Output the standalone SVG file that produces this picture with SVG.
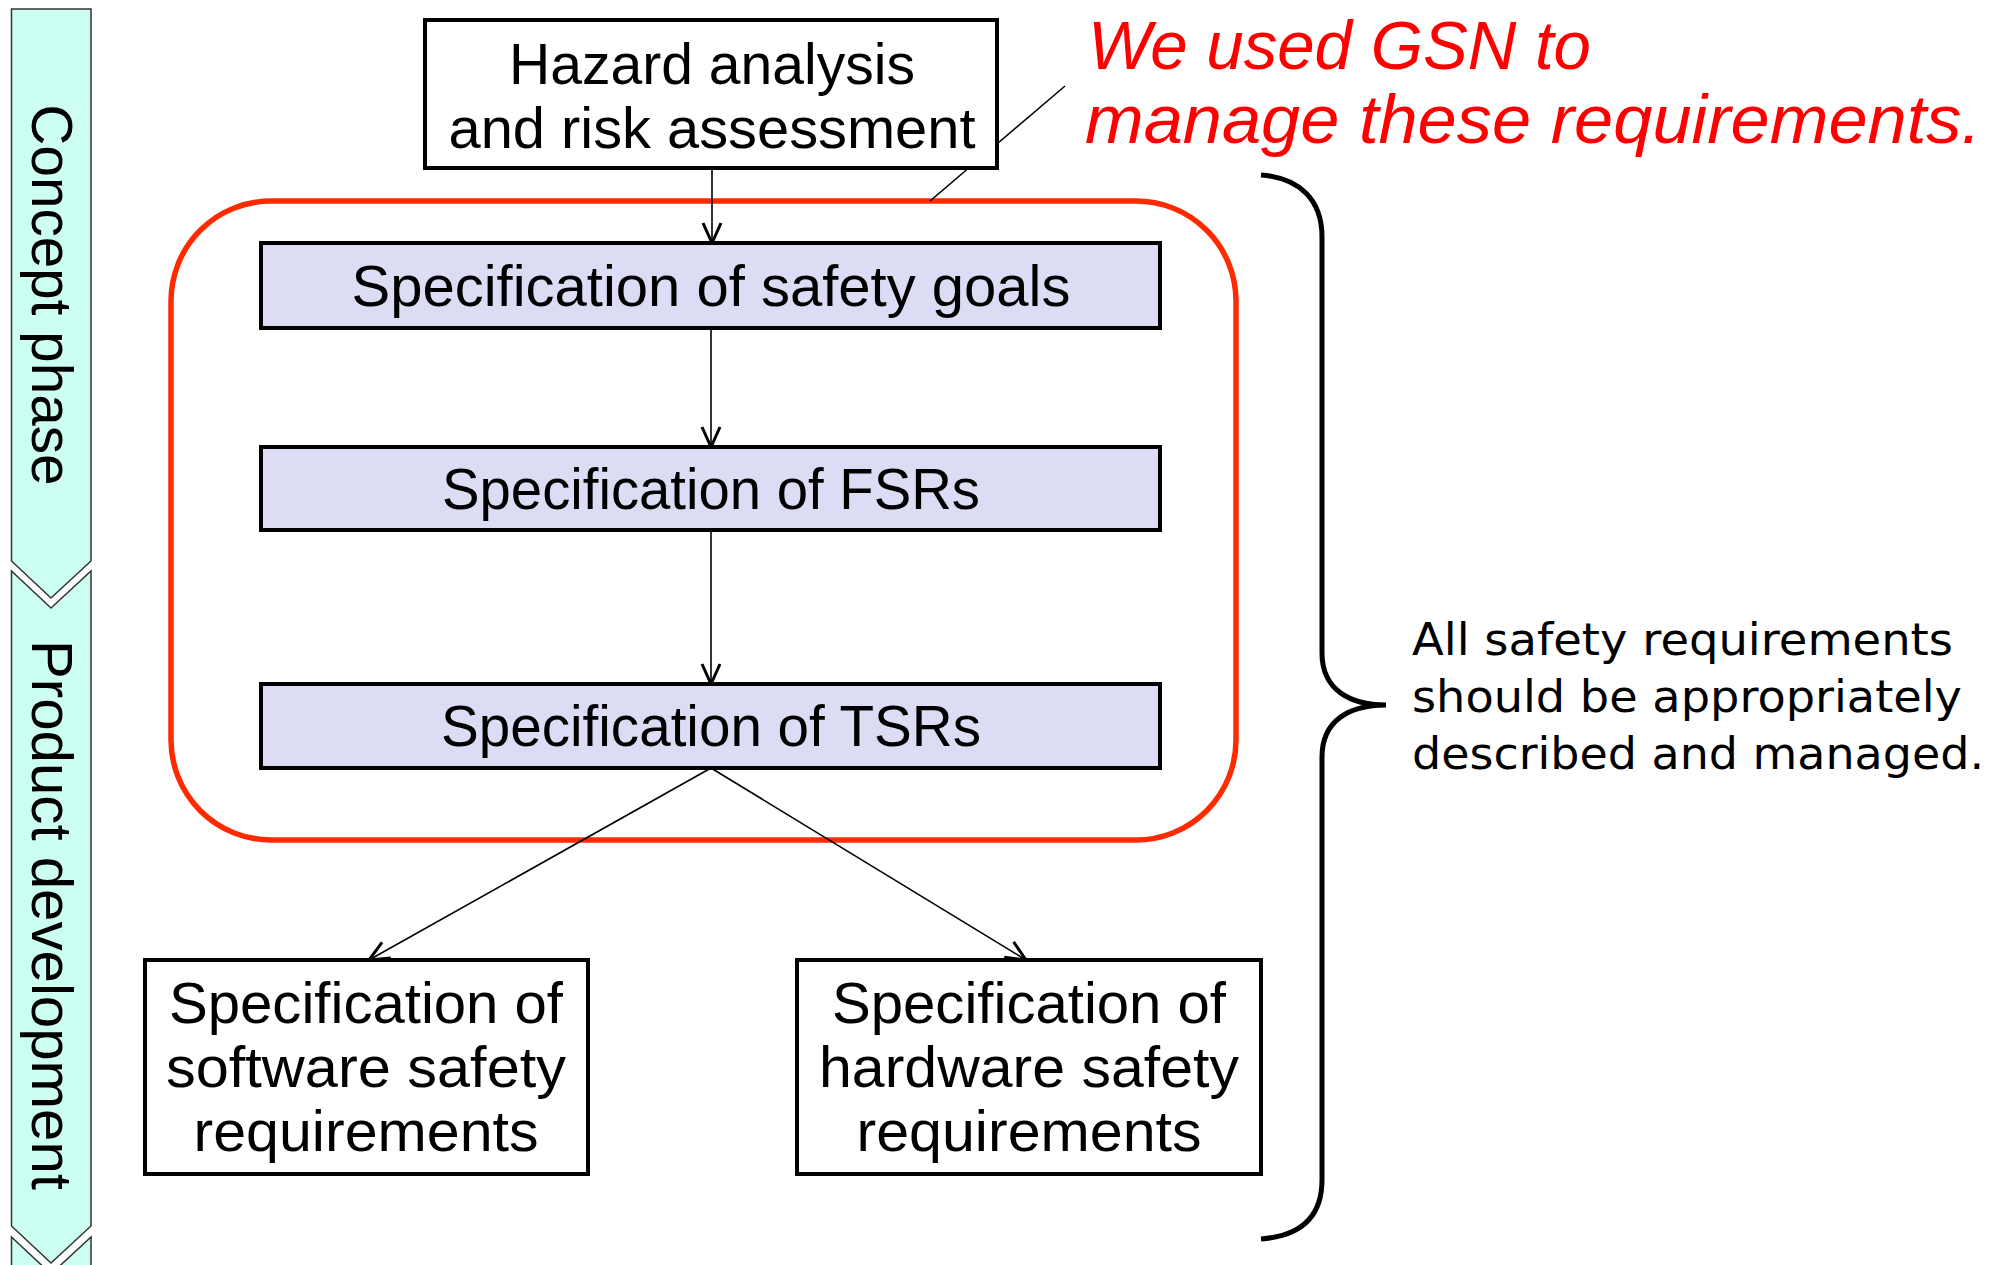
<svg xmlns="http://www.w3.org/2000/svg" width="2007" height="1265" viewBox="0 0 2007 1265">
<style>
.box{fill:#fff;stroke:#000;stroke-width:4}
.spec{fill:#dcdcf4;stroke:#000;stroke-width:4}
.t{font-family:"Liberation Sans",Arial,sans-serif;font-size:57px;fill:#000;text-anchor:middle}
.phase{fill:#ccfff2;stroke:#333;stroke-width:1.5}
.conn{stroke:#000;stroke-width:1.6;fill:none}
</style>
<defs>
<marker id="arr" markerUnits="userSpaceOnUse" markerWidth="24" markerHeight="24" viewBox="0 0 24 24" refX="22" refY="12" orient="auto">
<path d="M2,3 L22,12 L2,21" fill="none" stroke="#000" stroke-width="3"/>
</marker>
</defs>
<rect width="2007" height="1265" fill="#fff"/>

<g id="phases">
<path class="phase" d="M11.5,9 L91,9 L91,561 L51,598 L11.5,561 Z"/>
<path class="phase" d="M11.5,571 L51,608 L91,571 L91,1226 L51,1263 L11.5,1226 Z"/>
<path class="phase" d="M11.5,1237 L51,1274 L91,1237 L91,1290 L11.5,1290 Z"/>
<text class="t" transform="translate(32,295) rotate(90)" textLength="381" lengthAdjust="spacingAndGlyphs">Concept phase</text>
<text class="t" transform="translate(32,915) rotate(90)" textLength="550" lengthAdjust="spacingAndGlyphs">Product development</text>
</g>

<g id="gsn-boundary">
<rect x="171" y="201" width="1065" height="639" rx="100" ry="100" fill="none" stroke="#ff2a00" stroke-width="5.5"/>
</g>

<g id="connectors">
<line class="conn" x1="712" y1="168" x2="712" y2="243" marker-end="url(#arr)"/>
<line class="conn" x1="711" y1="328" x2="711" y2="447" marker-end="url(#arr)"/>
<line class="conn" x1="711" y1="530" x2="711" y2="684" marker-end="url(#arr)"/>
<line class="conn" x1="711" y1="768" x2="369" y2="960" marker-end="url(#arr)"/>
<line class="conn" x1="711" y1="768" x2="1026" y2="960" marker-end="url(#arr)"/>
<line class="conn" x1="1065" y1="86" x2="930" y2="201"/>
</g>

<g id="hazard">
<rect class="box" x="425" y="20" width="572" height="148"/>
<text class="t" x="712" y="84" textLength="406" lengthAdjust="spacingAndGlyphs">Hazard analysis</text>
<text class="t" x="712" y="148" textLength="527" lengthAdjust="spacingAndGlyphs">and risk assessment</text>
</g>

<g id="safety-goals">
<rect class="spec" x="261" y="243" width="899" height="85"/>
<text class="t" x="711" y="306" textLength="719" lengthAdjust="spacingAndGlyphs">Specification of safety goals</text>
</g>

<g id="fsr">
<rect class="spec" x="261" y="447" width="899" height="83"/>
<text class="t" x="711" y="509" textLength="538" lengthAdjust="spacingAndGlyphs">Specification of FSRs</text>
</g>

<g id="tsr">
<rect class="spec" x="261" y="684" width="899" height="84"/>
<text class="t" x="711" y="746" textLength="540" lengthAdjust="spacingAndGlyphs">Specification of TSRs</text>
</g>

<g id="software">
<rect class="box" x="145" y="960" width="443" height="214"/>
<text class="t" x="366" y="1023" textLength="394" lengthAdjust="spacingAndGlyphs">Specification of</text>
<text class="t" x="366" y="1087" textLength="400" lengthAdjust="spacingAndGlyphs">software safety</text>
<text class="t" x="366" y="1151" textLength="345" lengthAdjust="spacingAndGlyphs">requirements</text>
</g>

<g id="hardware">
<rect class="box" x="797" y="960" width="464" height="214"/>
<text class="t" x="1029" y="1023" textLength="394" lengthAdjust="spacingAndGlyphs">Specification of</text>
<text class="t" x="1029" y="1087" textLength="420" lengthAdjust="spacingAndGlyphs">hardware safety</text>
<text class="t" x="1029" y="1151" textLength="345" lengthAdjust="spacingAndGlyphs">requirements</text>
</g>

<g id="gsn-note">
<text font-family="'Liberation Sans',Arial,sans-serif" font-style="italic" font-size="68" fill="#ff0000" x="1088" y="69" textLength="503" lengthAdjust="spacingAndGlyphs">We used GSN to</text>
<text font-family="'Liberation Sans',Arial,sans-serif" font-style="italic" font-size="68" fill="#ff0000" x="1085" y="143" textLength="896" lengthAdjust="spacingAndGlyphs">manage these requirements.</text>
</g>

<g id="brace">
<path d="M1261,175 C1300,178 1322,200 1322,237 L1322,653 C1322,690 1350,705 1386,705 C1350,705 1322,720 1322,757 L1322,1180 C1322,1218 1300,1236 1261,1239" fill="none" stroke="#000" stroke-width="5"/>
<text font-family="'DejaVu Sans',Verdana,sans-serif" font-size="45" fill="#000" x="1412" y="655" textLength="541" lengthAdjust="spacingAndGlyphs">All safety requirements</text>
<text font-family="'DejaVu Sans',Verdana,sans-serif" font-size="45" fill="#000" x="1412" y="712" textLength="550" lengthAdjust="spacingAndGlyphs">should be appropriately</text>
<text font-family="'DejaVu Sans',Verdana,sans-serif" font-size="45" fill="#000" x="1412" y="769" textLength="572" lengthAdjust="spacingAndGlyphs">described and managed.</text>
</g>
</svg>
